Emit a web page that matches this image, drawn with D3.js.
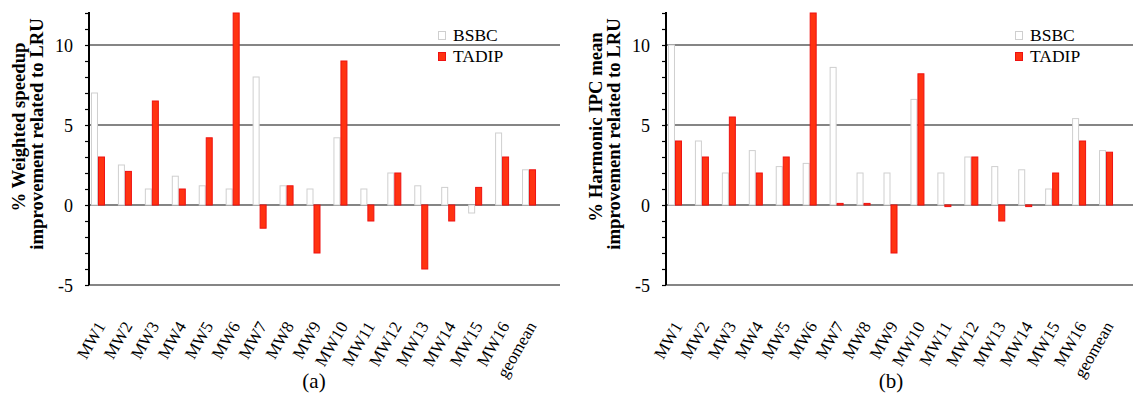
<!DOCTYPE html>
<html>
<head>
<meta charset="utf-8">
<script src="https://cdn.jsdelivr.net/npm/d3@7/dist/d3.min.js"></script>
<style>
  html, body { margin: 0; padding: 0; background: #fff; }
  svg { display: block; font-family: "Liberation Serif", "Times New Roman", serif; }
</style>
</head>
<body>
<svg id="chart" width="1133" height="396"></svg>
<script>
// Workload mixes on the x axis
const categories = ["MW1", "MW2", "MW3", "MW4", "MW5", "MW6", "MW7", "MW8",
  "MW9", "MW10", "MW11", "MW12", "MW13", "MW14", "MW15", "MW16", "geomean"];
const seriesNames = ["BSBC", "TADIP"];

// (a) weighted speedup improvement over LRU, in %
const speedupBSBC  = [7.0, 2.5, 1.0, 1.8, 1.2, 1.0, 8.0, 1.2, 1.0, 4.2, 1.0, 2.0, 1.2, 1.1, -0.5, 4.5, 2.2];
const speedupTADIP = [3.0, 2.1, 6.5, 1.0, 4.2, 12.0, -1.45, 1.2, -3.0, 9.0, -1.0, 2.0, -4.0, -1.0, 1.1, 3.0, 2.2];

// (b) harmonic IPC mean improvement over LRU, in %
const hmeanBSBC  = [10.0, 4.0, 2.0, 3.4, 2.4, 2.6, 8.6, 2.0, 2.0, 6.6, 2.0, 3.0, 2.4, 2.2, 1.0, 5.4, 3.4];
const hmeanTADIP = [4.0, 3.0, 5.5, 2.0, 3.0, 12.0, 0.1, 0.1, -3.0, 8.2, -0.1, 3.0, -1.0, -0.1, 2.0, 4.0, 3.3];

// y axis
const yDomain = [-5, 12];
const yTickLabels = [-5, 0, 5, 10];
const yGridValues = [-5, 0, 5, 10];

const svg = d3.select("#chart");

const seriesStyle = {
  BSBC:  { fill: "#ffffff", stroke: "#cfcfcf" },
  TADIP: { fill: "#ff3311", stroke: "#ee1111" }
};

function drawPanel(offsetX, bsbc, tadip, titleLines, caption) {
  const g = svg.append("g").attr("transform", `translate(${offsetX},0)`);
  const axisX = 89, plotRight = 560;

  const y = d3.scaleLinear().domain(yDomain).range([285, 13]);
  const x = d3.scaleBand().domain(categories).range([84.5, 542.5]).padding(0);
  const xs = d3.scaleBand().domain(seriesNames).range([0, 14]).padding(0);

  // horizontal grid lines
  g.append("g").selectAll("line").data(yGridValues).join("line")
    .attr("x1", axisX).attr("x2", plotRight)
    .attr("y1", d => y(d)).attr("y2", d => y(d))
    .attr("stroke", "#858585").attr("stroke-width", 2);

  // bars
  const rows = categories.map((c, i) => ({ cat: c, BSBC: bsbc[i], TADIP: tadip[i] }));
  seriesNames.forEach(s => {
    g.append("g").selectAll("rect").data(rows).join("rect")
      .attr("x", d => x(d.cat) + x.bandwidth() / 2 - 7 + xs(s) + 0.5)
      .attr("width", xs.bandwidth() - 1)
      .attr("y", d => Math.min(y(d[s]), y(0)))
      .attr("height", d => Math.abs(y(d[s]) - y(0)))
      .attr("fill", seriesStyle[s].fill)
      .attr("stroke", seriesStyle[s].stroke)
      .attr("stroke-width", 1);
  });

  // y axis: tick every unit, labels at multiples of 5
  const yAxis = d3.axisLeft(y)
    .tickValues(d3.range(yDomain[0], yDomain[1] + 1, 1))
    .tickSize(4)
    .tickSizeOuter(0)
    .tickFormat(d => yTickLabels.includes(d) ? String(d) : "");
  const ya = g.append("g").attr("transform", `translate(${axisX},0)`).call(yAxis);
  ya.select(".domain").attr("stroke", "#000").attr("stroke-width", 2)
    .attr("d", `M0,12V${y(yDomain[0])}`);
  ya.selectAll(".tick line").attr("stroke", "#000").attr("stroke-width", 1.2);
  ya.selectAll(".tick text")
    .attr("x", -16)
    .attr("dy", "0.36em")
    .attr("font-family", "Liberation Serif, serif")
    .attr("font-size", 18)
    .attr("fill", "#000");

  // y axis title, two lines
  titleLines.forEach((t, i) => {
    g.append("text")
      .attr("transform", `translate(${25 + i * 18},${i === 0 ? 127 : 134}) rotate(-90)`)
      .attr("text-anchor", "middle")
      .attr("font-weight", "bold")
      .attr("font-size", 18.7)
      .attr("fill", "#000")
      .text(t);
  });

  // category labels, rotated
  g.append("g").selectAll("text").data(categories).join("text")
    .attr("transform", d => `translate(${x(d) + x.bandwidth() / 2 + 8},326) rotate(-60)`)
    .attr("text-anchor", "end")
    .attr("font-size", 17)
    .attr("fill", "#000")
    .text(d => d);

  // legend
  const lg = g.append("g").attr("transform", "translate(438,31)");
  seriesNames.forEach((s, i) => {
    lg.append("rect")
      .attr("x", 0.5).attr("y", i * 21 + 0.5)
      .attr("width", 7).attr("height", 8)
      .attr("fill", seriesStyle[s].fill)
      .attr("stroke", seriesStyle[s].stroke);
    lg.append("text")
      .attr("x", 15).attr("y", i * 21 + 10)
      .attr("font-size", 17.5)
      .attr("fill", "#000")
      .text(s);
  });

  // panel caption
  g.append("text")
    .attr("x", 314).attr("y", 388)
    .attr("text-anchor", "middle")
    .attr("font-size", 21)
    .attr("fill", "#000")
    .text(caption);
}

drawPanel(0, speedupBSBC, speedupTADIP,
  ["% Weighted speedup", "improvement related to LRU"], "(a)");
drawPanel(577, hmeanBSBC, hmeanTADIP,
  ["% Harmonic IPC mean", "improvement related to LRU"], "(b)");
</script>
</body>
</html>
